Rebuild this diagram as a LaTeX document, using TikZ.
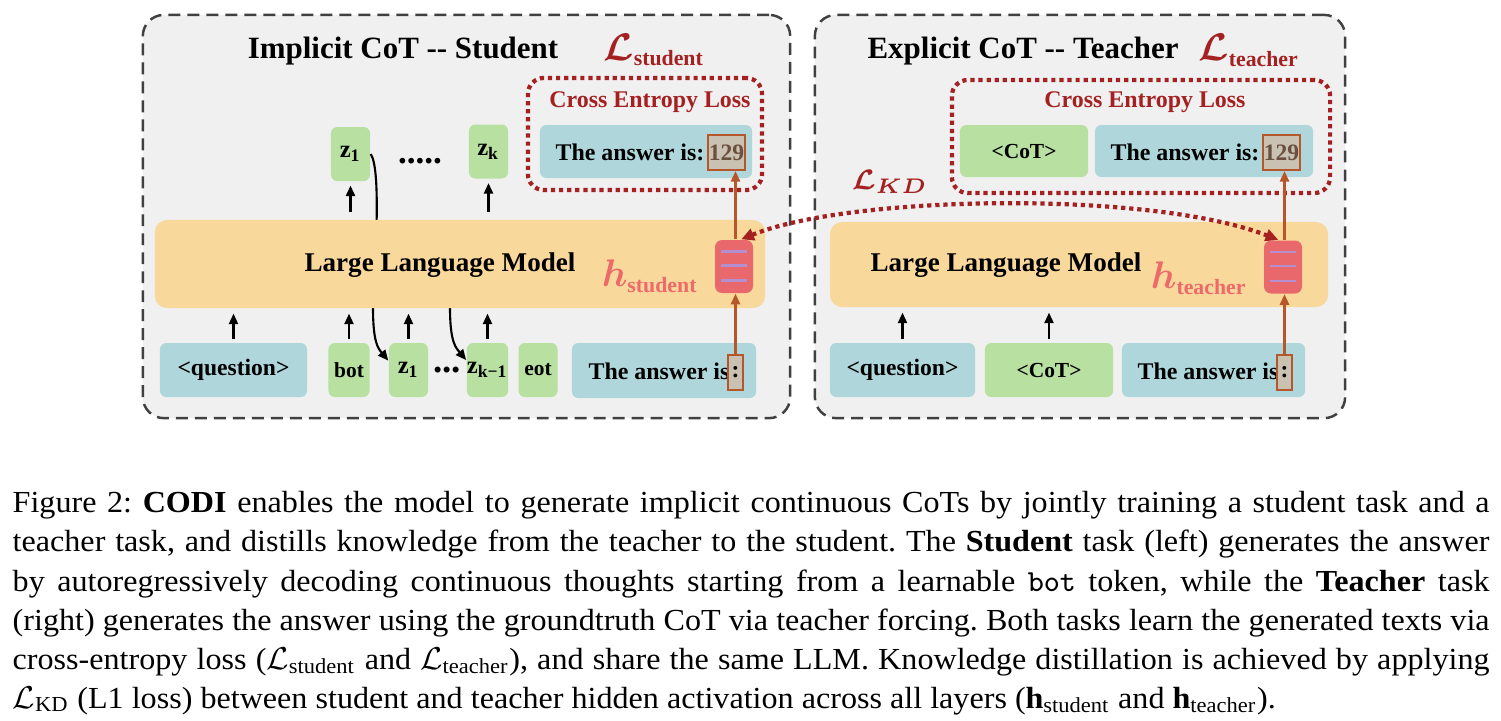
\documentclass[tikz,border=0pt]{standalone}
\usepackage{amsmath}
\usepackage{amssymb}
\usepackage{fontspec}
\setmainfont{Liberation Serif}
\newfontfamily\capfont{Liberation Serif}[FakeStretch=1.05]
\usetikzlibrary{positioning,arrows.meta}
\definecolor{panelgray}{HTML}{F0F0F0}
\definecolor{ansblue}{HTML}{AFD7DB}
\definecolor{tokgreen}{HTML}{B8E0A0}
\definecolor{llmorange}{HTML}{F9D89C}
\definecolor{hidred}{HTML}{E9686C}
\definecolor{hidline}{HTML}{B48FD0}
\definecolor{brownc}{HTML}{B5562B}
\definecolor{numfill}{HTML}{C9C2B2}
\definecolor{numtext}{HTML}{6B4F3F}
\definecolor{lossred}{HTML}{A52121}
\definecolor{hpink}{HTML}{EC6A6A}
\newcommand{\Lsub}[1]{$\boldsymbol{\mathcal{L}}_{\text{\fontsize{6.2}{6}\selectfont\bfseries #1}}$}
\newcommand{\hsub}[1]{$\boldsymbol{h}_{\text{\fontsize{6.2}{6}\selectfont\bfseries #1}}$}
\newcommand{\zt}[1]{z\textsubscript{#1}}
\newcommand{\capline}[1]{\makebox[14.76cm][s]{#1}}

\begin{document}
\begin{tikzpicture}[x=0.01cm, y=-0.01cm,
    panel/.style={draw=black!75, fill=panelgray, line width=0.7pt, dash pattern=on 3.4pt off 2pt,
                  rounded corners=6pt},
    loss/.style={draw=lossred, line width=1.2pt, dash pattern=on 1.2pt off 1.1pt, rounded corners=4.5pt},
    box/.style={rounded corners=1.8pt, inner sep=0pt, font=\bfseries\fontsize{6.7}{8}\selectfont},
    ansbox/.style={box, fill=ansblue, minimum height=0.54cm},
    tok/.style={box, fill=tokgreen, minimum height=0.54cm, font=\bfseries\fontsize{6.1}{7}\selectfont},
    ztok/.style={tok, minimum width=0.39cm, font=\bfseries\fontsize{7}{8}\selectfont},
    llm/.style={fill=llmorange, rounded corners=3.5pt},
    hid/.style={fill=hidred, rounded corners=2pt, minimum width=0.38cm, minimum height=0.53cm},
    hline/.style={draw=hidline, line width=0.6pt},
    numbox/.style={draw=brownc, line width=0.6pt, fill=numfill, text=numtext, inner sep=0pt,
                   minimum height=0.35cm, font=\bfseries\fontsize{6.7}{8}\selectfont},
    lbl/.style={inner sep=0pt, font=\bfseries\fontsize{6.8}{8}\selectfont},
    llmtxt/.style={inner sep=0pt, font=\bfseries\fontsize{7.7}{9}\selectfont},
    ttl/.style={inner sep=0pt, font=\bfseries\fontsize{8.8}{10}\selectfont},
    big/.style={inner sep=0pt, font=\fontsize{11}{12}\selectfont},
    up/.style={-{Triangle[length=3pt,width=2.6pt]}, line width=0.6pt},
    brn/.style={up, draw=brownc},
    kd/.style={{Triangle[length=3.6pt,width=3.4pt]}-{Triangle[length=3.6pt,width=3.4pt]}, draw=lossred,
               line width=1.2pt, dash pattern=on 1.2pt off 1.1pt}]
  \useasboundingbox (0,0) rectangle (1501,720);

  % panels
  \node[panel, minimum width=6.47cm, minimum height=4.03cm] (pS) at (466.5,216.5) {};
  \node[panel, minimum width=5.30cm, minimum height=4.03cm] (pT) at (1080,216.5) {};

  % student side
  \node[ttl] (tS) at (403,51) {Implicit CoT -{}- Student};
  \node[big, text=lossred] (lS) at (654,50) {\Lsub{student}};
  \node[loss, minimum width=2.34cm, minimum height=1.12cm] (ceS) at (645,134) {};
  \node[lbl, text=lossred] (ceSt) at (650,102) {Cross Entropy Loss};
  \node[ansbox, minimum width=2.12cm, minimum height=0.53cm] (oS) at (646,151.5) {};
  \node[lbl] (oSt) at (630,152) {The answer is:};
  \node[numbox, minimum width=0.37cm] (nS) at (726.5,152.5) {129};

  \node[ztok] (zo1) at (350.5,154) {\zt{1}};
  \node[ztok] (zok) at (488.5,151.5) {\zt{k}};
  \node[inner sep=0pt, font=\bfseries\fontsize{10}{10}\selectfont] (dotsT) at (420,161) {.....};

  \node[ansbox, minimum width=1.47cm] (qS) at (233.5,370) {<question>};
  \node[tok, minimum width=0.41cm] (bot) at (349,370) {bot};
  \node[ztok] (zi1) at (408.5,370) {\zt{1}};
  \node[inner sep=0pt, font=\bfseries\fontsize{10.5}{10}\selectfont] (dotsB) at (447,370) {...};
  \node[ztok] (zik) at (487.5,370) {\zt{k−1}};
  \node[tok, minimum width=0.39cm] (eot) at (538,370) {eot};
  \node[ansbox, minimum width=1.84cm, minimum height=0.55cm] (aS) at (664,370.5) {};
  \node[lbl] (aSt) at (659,371) {The answer is};
  \node[numbox, minimum width=0.15cm, text=black] (cS) at (735.5,372.5) {:};

  \draw[line width=0.6pt, -{Triangle[length=3pt,width=2.6pt]}] (zo1.east) .. controls +(10,15) and +(3,-60) ..
    (373,0 |- 0,308) .. controls +(0,35) and +(-10,-12) .. (zi1.155);
  \draw[line width=0.6pt, -{Triangle[length=3pt,width=2.6pt]}] (450,308) .. controls +(0,35) and +(-10,-12) .. (zik.155);

  \node[llm, minimum width=6.10cm, minimum height=0.88cm] (LLMs) at (460,264) {};
  \node[llmtxt] (LLMsT) at (440,265) {Large Language Model};
  \node[big, text=hpink] (hSl) at (650,276) {\hsub{student}};
  \node[hid] (hS) at (734,266.5) {};
  \foreach \dy in {-15,-1,14}
    \draw[hline] (hS.center) ++(-13,\dy) -- ++(26,0);

  \foreach \t in {qS,bot,zi1,zik}
    \draw[up, shorten <=0.9pt, shorten >=1.4pt] (\t) -- (\t |- LLMs.south);
  \foreach \t in {zo1,zok}
    \draw[up, shorten <=2pt, shorten >=1.1pt] (\t |- LLMs.north) -- (\t);
  \draw[brn] (cS) -- (cS |- hS.south);
  \draw[brn] (cS |- hS.north) -- (cS |- nS.south);

  % teacher side
  \node[ttl] (tT) at (1023,51) {Explicit CoT -{}- Teacher};
  \node[big, text=lossred] (lT) at (1249,50) {\Lsub{teacher}};
  \node[loss, minimum width=3.78cm, minimum height=1.13cm] (ceT) at (1141,136.5) {};
  \node[lbl, text=lossred] (ceTt) at (1145,102) {Cross Entropy Loss};
  \node[tok, minimum width=1.28cm, minimum height=0.52cm] (cotO) at (1024,151) {<CoT>};
  \node[ansbox, minimum width=2.18cm, minimum height=0.52cm] (oT) at (1204,151) {};
  \node[lbl] (oTt) at (1185,152) {The answer is:};
  \node[numbox, minimum width=0.37cm] (nT) at (1281.5,152.5) {129};

  \node[llm, minimum width=4.98cm, minimum height=0.85cm] (LLMt) at (1079,264.5) {};
  \node[llmtxt] (LLMtT) at (1006,265) {Large Language Model};
  \node[big, text=hpink] (hTl) at (1199,278) {\hsub{teacher}};
  \node[hid] (hT) at (1283,267) {};
  \foreach \dy in {-15,-1,14}
    \draw[hline] (hT.center) ++(-13,\dy) -- ++(26,0);

  \node[ansbox, minimum width=1.45cm] (qT) at (902.5,370) {<question>};
  \node[tok, minimum width=1.28cm] (cotI) at (1049,370) {<CoT>};
  \node[ansbox, minimum width=1.83cm] (aT) at (1213.5,370) {};
  \node[lbl] (aTt) at (1208,371) {The answer is};
  \node[numbox, minimum width=0.15cm, text=black] (cT) at (1284.5,372.5) {:};

  \foreach \t in {qT,cotI}
    \draw[up, shorten <=0.9pt, shorten >=1.4pt] (\t) -- (\t |- LLMt.south);
  \draw[brn] (cT) -- (cT |- hT.south);
  \draw[brn] (cT |- hT.north) -- (cT |- nT.south);

  % distillation
  \node[inner sep=0pt, text=lossred, font=\fontsize{8}{9}\selectfont] (lKD) at (890,182) {$\boldsymbol{\mathcal{L}_{KD}}$};
  \draw[kd] (hS.75) .. controls (850,195) and (1150,190) .. (hT.100);

  % caption
  \node[anchor=north west, inner sep=0pt, align=left, font=\capfont\frenchspacing\fontsize{8.7}{11.1}\selectfont] (cap) at (12,491) {%
    \capline{Figure 2: \textbf{CODI} enables the model to generate implicit continuous CoTs by jointly training a student task and a}\\
    \capline{teacher task, and distills knowledge from the teacher to the student. The \textbf{Student} task (left) generates the answer}\\
    \capline{by autoregressively decoding continuous thoughts starting from a learnable \texttt{bot} token, while the \textbf{Teacher} task}\\
    \capline{(right) generates the answer using the groundtruth CoT via teacher forcing. Both tasks learn the generated texts via}\\
    \capline{cross-entropy loss ($\mathcal{L}_{\text{student}}$ and $\mathcal{L}_{\text{teacher}}$), and share the same LLM. Knowledge distillation is achieved by applying}\\
    $\mathcal{L}_{\text{KD}}$ (L1 loss) between student and teacher hidden activation across all layers (\textbf{h}$_{\text{student}}$ and \textbf{h}$_{\text{teacher}}$).};
\end{tikzpicture}
\end{document}
